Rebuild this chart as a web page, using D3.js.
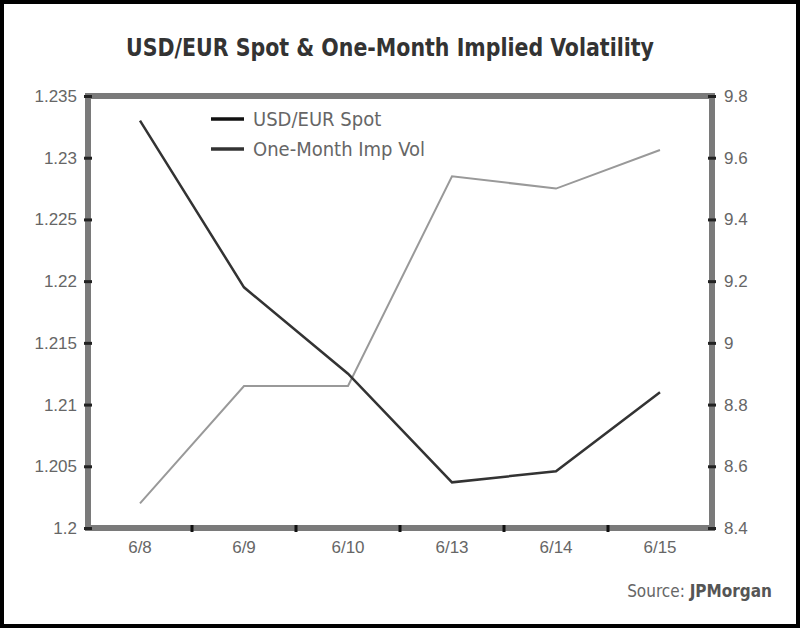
<!DOCTYPE html>
<html>
<head>
<meta charset="utf-8">
<title>USD/EUR Spot & One-Month Implied Volatility</title>
<style>
	html, body {
		margin: 0;
		padding: 0;
		background: #000;
	}
	svg {
		display: block;
		font-family: 'DejaVu Sans', sans-serif;
		font-stretch: condensed;
	}
</style>
</head>
<body>
<svg id="chart" width="800" height="628"></svg>
<script src="https://cdnjs.cloudflare.com/ajax/libs/d3/7.8.5/d3.min.js"></script>
<script>
	// values
	var dates = ['6/8', '6/9', '6/10', '6/13', '6/14', '6/15'];
	var spot = [1.2330, 1.2195, 1.2125, 1.2037, 1.2046, 1.2110];
	var impVol = [8.48, 8.86, 8.86, 9.54, 9.50, 9.625];
	var leftTicks = [1.2, 1.205, 1.21, 1.215, 1.22, 1.225, 1.23, 1.235];
	var rightTicks = [8.4, 8.6, 8.8, 9, 9.2, 9.4, 9.6, 9.8];

	var svg = d3.select('#chart');
	var margin = {top: 96, right: 88, bottom: 100, left: 88};
	var width = 800 - margin.left - margin.right;
	var height = 628 - margin.top - margin.bottom;

	// white card inside the black frame
	svg.append('rect').attr('x', 4).attr('y', 4)
		.attr('width', 792).attr('height', 620).attr('fill', '#fff');

	svg.append('text')
		.attr('x', 390).attr('y', 56)
		.attr('text-anchor', 'middle')
		.attr('font-size', 24).attr('font-weight', 'bold')
		.attr('textLength', 528).attr('lengthAdjust', 'spacingAndGlyphs')
		.attr('fill', '#333')
		.text('USD/EUR Spot & One-Month Implied Volatility');

	var g = svg.append('g').attr('transform', 'translate(' + margin.left + ',' + margin.top + ')');

	var x = d3.scaleBand().domain(dates).range([0, width]);
	var yL = d3.scaleLinear().domain([1.2, 1.235]).range([height, 0]);
	var yR = d3.scaleLinear().domain([8.4, 9.8]).range([height, 0]);

	// plot frame
	g.append('rect')
		.attr('width', width).attr('height', height)
		.attr('fill', 'none').attr('stroke', '#7a7a7a').attr('stroke-width', 6);

	// left axis
	var left = g.append('g').call(d3.axisLeft(yL).tickValues(leftTicks)
		.tickFormat(function(d) { return String(+d.toFixed(3)); }).tickSize(4).tickPadding(7));
	// right axis
	var right = g.append('g').attr('transform', 'translate(' + width + ',0)')
		.call(d3.axisRight(yR).tickValues(rightTicks)
		.tickFormat(function(d) { return String(+d.toFixed(1)); }).tickSize(4).tickPadding(8));
	[left, right].forEach(function(a) {
		a.select('.domain').remove();
		a.selectAll('.tick line').attr('stroke', '#222').attr('stroke-width', 3)
			.attr('transform', a === left ? 'translate(4,0)' : 'translate(-4,0)')
			.attr('x2', a === left ? -8 : 8);
		a.selectAll('.tick text').attr('font-size', 17).attr('fill', '#666')
			.attr('font-family', null);
	});

	// x axis: ticks between the categories, labels centered
	var bottom = g.append('g').attr('transform', 'translate(0,' + height + ')')
		.call(d3.axisBottom(x).tickSize(0).tickPadding(13));
	bottom.select('.domain').remove();
	bottom.selectAll('.tick text').attr('font-size', 17).attr('fill', '#666').attr('font-family', null);
	bottom.selectAll('.sep')
		.data(dates.slice(1))
		.join('line')
		.attr('class', 'sep')
		.attr('x1', function(d) { return x(d); })
		.attr('x2', function(d) { return x(d); })
		.attr('y1', -3).attr('y2', 4)
		.attr('stroke', '#111').attr('stroke-width', 3);

	var cx = function(d, i) { return x(dates[i]) + x.bandwidth() / 2; };

	var volLine = d3.line().x(cx).y(function(d) { return yR(d); });
	g.append('path').datum(impVol)
		.attr('fill', 'none').attr('stroke', '#999').attr('stroke-width', 2)
		.attr('d', volLine);

	var spotLine = d3.line().x(cx).y(function(d) { return yL(d); });
	g.append('path').datum(spot)
		.attr('fill', 'none').attr('stroke', '#333').attr('stroke-width', 2.5)
		.attr('d', spotLine);

	// legend
	var legend = [
		{name: 'USD/EUR Spot', color: '#111'},
		{name: 'One-Month Imp Vol', color: '#333'}
	];
	var lg = g.append('g').attr('transform', 'translate(123,23)');
	var item = lg.selectAll('g').data(legend).join('g')
		.attr('transform', function(d, i) { return 'translate(0,' + i * 30 + ')'; });
	item.append('line').attr('x1', 0).attr('x2', 33)
		.attr('stroke', function(d) { return d.color; }).attr('stroke-width', 3.5);
	item.append('text').attr('x', 42).attr('dy', '0.35em')
		.attr('font-size', 20).attr('fill', '#666')
		.text(function(d) { return d.name; });

	// source note
	var src = svg.append('text')
		.attr('x', 772).attr('y', 597)
		.attr('text-anchor', 'end')
		.attr('font-size', 17).attr('fill', '#666');
	src.append('tspan').text('Source: ');
	src.append('tspan').attr('font-weight', 'bold').attr('fill', '#555').text('JPMorgan');
</script>
</body>
</html>
